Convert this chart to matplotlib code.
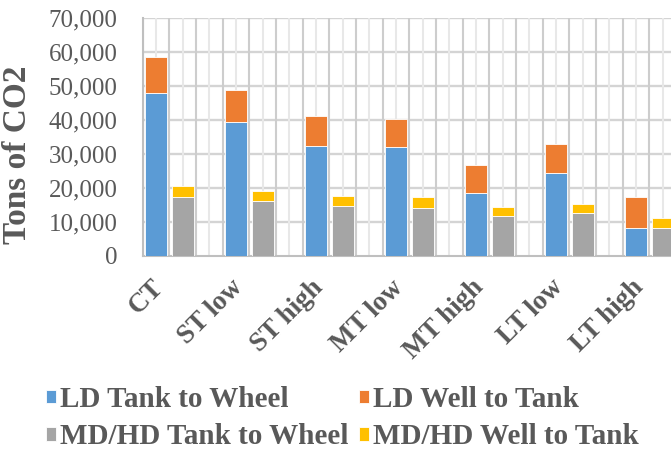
import numpy as np
import matplotlib.pyplot as plt
from matplotlib.ticker import FuncFormatter

# 字体：Times 风格
plt.rcParams["font.family"] = "serif"
plt.rcParams["font.serif"] = ["Liberation Serif", "DejaVu Serif"]

# 数据
categories = ["CT", "ST low", "ST high", "MT low", "MT high", "LT low", "LT high"]
ld_tank_to_wheel = [47900, 39300, 32400, 32100, 18500, 24500, 8200]
ld_well_to_tank = [10600, 9400, 8800, 8100, 8200, 8500, 9100]
mdhd_tank_to_wheel = [17300, 16100, 14800, 14100, 11700, 12600, 8200]
mdhd_well_to_tank = [3400, 3000, 2900, 3200, 2800, 2800, 3100]

blue = "#5b9bd5"
orange = "#ed7d31"
grey = "#a5a5a5"
yellow = "#ffc000"
text_grey = "#595959"

fig = plt.figure(figsize=(6.71, 4.53), dpi=100)
ax = fig.add_axes([142.7 / 671, 197 / 453, 1 - 142.7 / 671, 238 / 453])

x = np.arange(len(categories))
slot = 1 / 3
w = 0.275

b1 = ax.bar(x - slot, ld_tank_to_wheel, w, color=blue, edgecolor="white", linewidth=0.6, zorder=3)
b2 = ax.bar(x - slot, ld_well_to_tank, w, bottom=ld_tank_to_wheel, color=orange,
            edgecolor="white", linewidth=0.6, zorder=3)
b3 = ax.bar(x, mdhd_tank_to_wheel, w, color=grey, edgecolor="white", linewidth=0.6, zorder=3)
b4 = ax.bar(x, mdhd_well_to_tank, w, bottom=mdhd_tank_to_wheel, color=yellow,
            edgecolor="white", linewidth=0.6, zorder=3)

ax.set_xlim(-0.5, -0.5 + (671 - 142.7) / 80)
ax.set_ylim(0, 70000)
ax.set_yticks(np.arange(0, 70001, 10000))
ax.yaxis.set_major_formatter(FuncFormatter(lambda v, p: f"{int(v):,}"))

# 网格：横线 + 竖线（深浅交替）
for yv in np.arange(10000, 70001, 10000):
    ax.axhline(yv, color="#d4d4d4", lw=1.7, zorder=1)
for xv in np.arange(-0.5, 6.2, slot):
    ax.axvline(xv, color="#cdcdcd", lw=1.5, zorder=1)
for xv in np.arange(-0.5 + slot / 2, 6.2, slot):
    ax.axvline(xv, color="#e8e8e8", lw=1.5, zorder=1)

# x 轴标签
ax.set_xticks([])
for i, name in enumerate(categories):
    ax.text(i - 0.4, -0.08, name, transform=ax.get_xaxis_transform(),
            rotation=45, ha="right", va="top", rotation_mode="anchor",
            fontsize=19.5, fontweight="bold", color=text_grey, clip_on=False)
ax.tick_params(axis="x", length=0)
ax.tick_params(axis="y", length=0, pad=18, labelsize=18, labelcolor=text_grey)

for s in ["top", "right"]:
    ax.spines[s].set_visible(False)
ax.spines["left"].set_color("#bfbfbf")
ax.spines["left"].set_linewidth(1.5)
ax.spines["bottom"].set_color("#bfbfbf")
ax.spines["bottom"].set_linewidth(1.5)

ax.set_ylabel("Tons of CO2", fontsize=24, fontweight="bold", color=text_grey)
ax.yaxis.set_label_coords(-0.207, 0.424)

fig.legend([b1, b3, b2, b4],
           ["LD Tank to Wheel", "MD/HD Tank to Wheel", "LD Well to Tank", "MD/HD Well to Tank"],
           loc="upper left", bbox_to_anchor=(46 / 671, 1 - 386 / 453), ncol=2,
           frameon=False, prop={"size": 21, "weight": "bold"},
           labelcolor=text_grey, handlelength=0.34, handleheight=0.34,
           handletextpad=0.15, columnspacing=0.35, labelspacing=0.35,
           borderpad=0, borderaxespad=0)

fig.savefig("out.png", dpi=100)
